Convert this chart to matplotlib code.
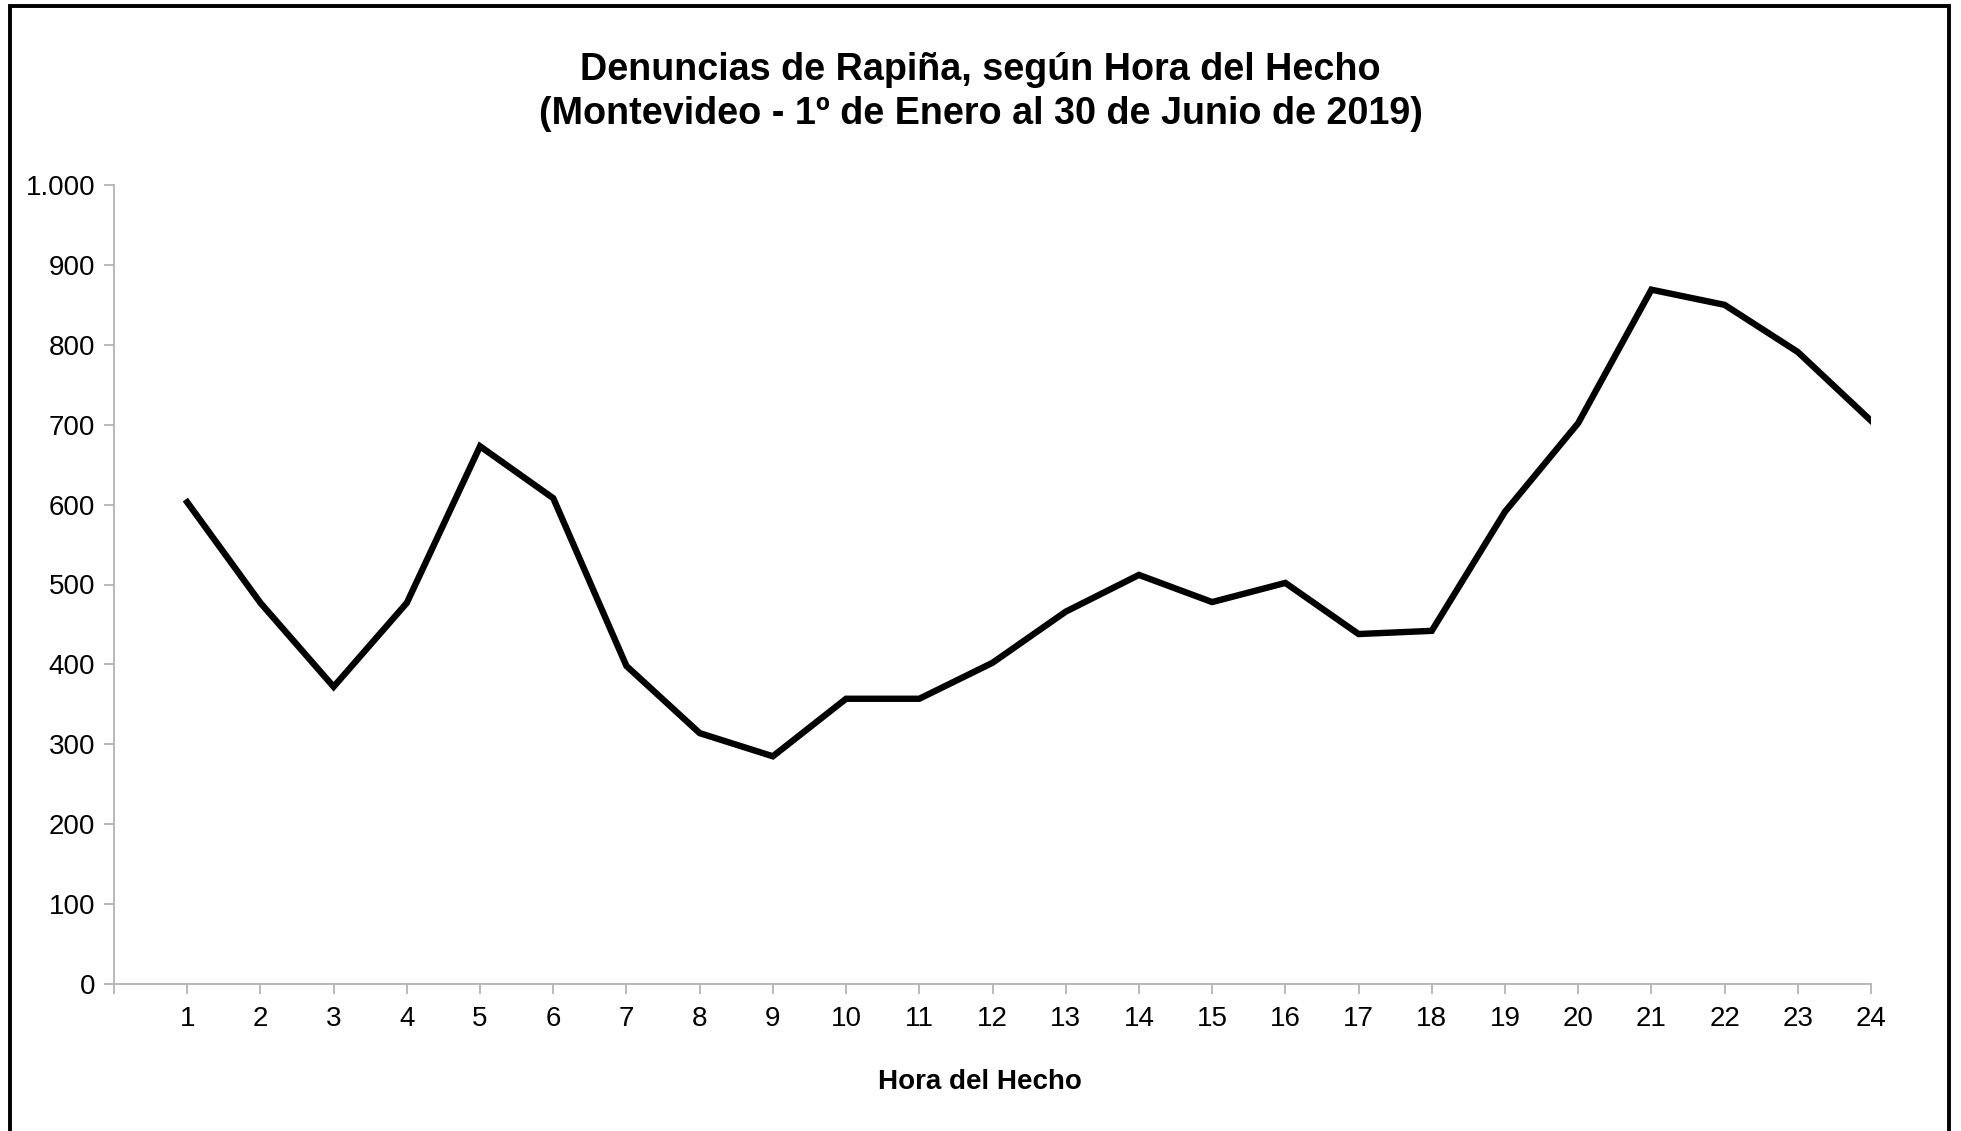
import matplotlib
matplotlib.use("Agg")
import matplotlib.pyplot as plt
from matplotlib.patches import Rectangle
from matplotlib.ticker import FuncFormatter

horas = list(range(1, 25))
denuncias = [603, 477, 372, 477, 673, 608, 398, 314, 285, 357, 357, 402,
             466, 512, 478, 502, 438, 442, 591, 702, 869, 850, 791, 705]
yticks = [0, 100, 200, 300, 400, 500, 600, 700, 800, 900, 1000]

title = "Denuncias de Rapiña, según Hora del Hecho\n(Montevideo - 1º de Enero al 30 de Junio de 2019)"
xlabel = "Hora del Hecho"

plt.rcParams['font.family'] = ['Liberation Sans', 'DejaVu Sans']

W, H = 1961, 1131
fig = plt.figure(figsize=(W / 100, H / 100), dpi=100)
fig.patch.set_facecolor('white')

left, right, top, bottom = 114, 1871, 185, 984
ax = fig.add_axes([left / W, 1 - bottom / H, (right - left) / W, (bottom - top) / H])

ax.plot(horas, denuncias, color='black', linewidth=4.6, solid_joinstyle='miter')

ax.set_xlim(0, 24)
ax.set_ylim(0, 1000)
ax.set_xticks(range(0, 25))
ax.set_xticklabels([''] + [str(h) for h in horas])
ax.set_yticks(yticks)
ax.yaxis.set_major_formatter(FuncFormatter(lambda v, p: f"{int(v):,}".replace(",", ".")))

grey = '#b3b3b3'
for s in ['top', 'right']:
    ax.spines[s].set_visible(False)
for s in ['left', 'bottom']:
    ax.spines[s].set_color(grey)
    ax.spines[s].set_linewidth(1.3)
ax.tick_params(axis='both', colors=grey, length=7.5, width=1.3, labelsize=20, labelcolor='black')
ax.tick_params(axis='x', pad=8)
ax.tick_params(axis='y', pad=6)

fig.text(0.5, 1 - 92 / H, title, ha='center', va='center', fontsize=27.2, fontweight='bold',
         linespacing=1.3)
fig.text(980 / W, 1 - 1082 / H, xlabel, ha='center', va='center', fontsize=20, fontweight='bold')

rect = Rectangle((10 / W, -0.05), (1949 - 10) / W, 1.05 - 6 / H, transform=fig.transFigure,
                 fill=False, edgecolor='black', linewidth=2.8, clip_on=False)
fig.patches.append(rect)

fig.savefig('out.png', dpi=100, facecolor='white')
